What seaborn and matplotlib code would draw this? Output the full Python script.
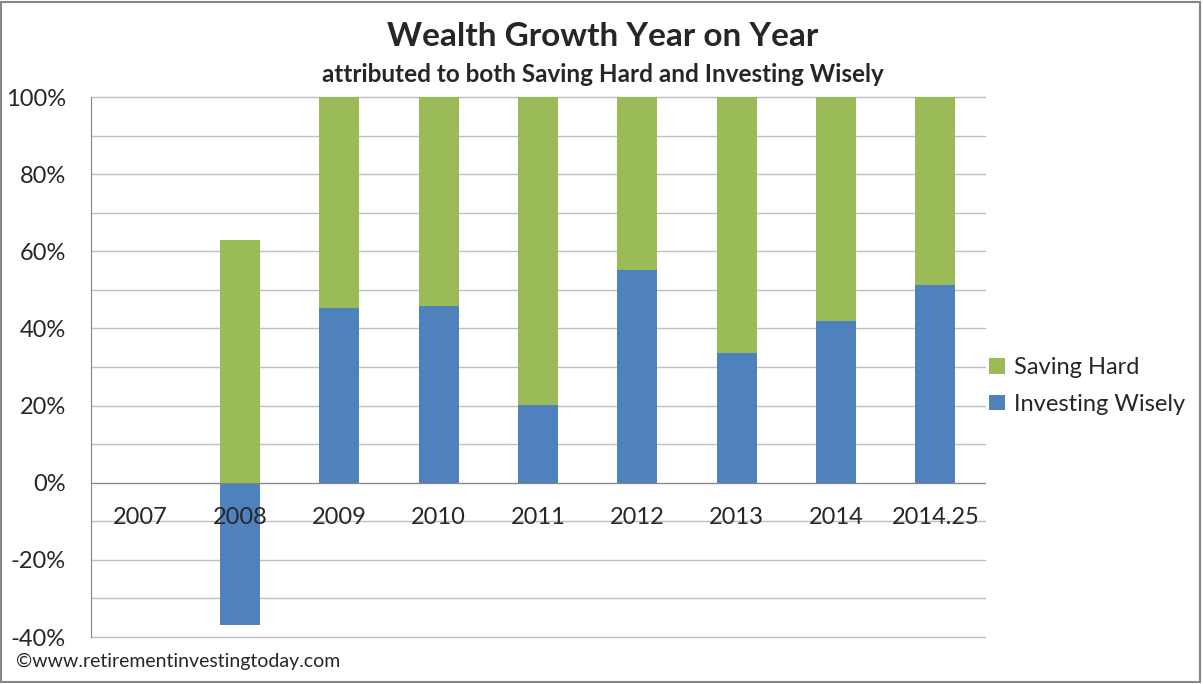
import matplotlib
matplotlib.use("Agg")
import matplotlib.pyplot as plt
from matplotlib.patches import Rectangle
from matplotlib.ticker import MultipleLocator, FixedLocator, PercentFormatter
import pandas as pd
import seaborn as sns

years = ["2007", "2008", "2009", "2010", "2011", "2012", "2013", "2014", "2014.25"]
investing_wisely = [0, -37.0, 45.3, 45.9, 20.2, 55.2, 33.7, 42.0, 51.3]
saving_hard = [0, 63.0, 54.7, 54.1, 79.8, 44.8, 66.3, 58.0, 48.7]

GREEN = "#9BBB59"
BLUE = "#4F81BD"
GREY = "#868686"

sns.set_style("white")
plt.rcParams["font.family"] = ["Lato", "DejaVu Sans"]
plt.rcParams["axes.unicode_minus"] = False

df = pd.DataFrame({"year": years, "investing": investing_wisely, "saving": saving_hard})
# saving stacks on a positive investing bar, starts at zero when investing is negative
df["saving_top"] = df["investing"].clip(lower=0) + df["saving"]

fig = plt.figure(figsize=(12.03, 6.84), dpi=100)
ax = fig.add_axes([91 / 1203, 47 / 684, 894 / 1203, 540 / 684])

sns.barplot(data=df, x="year", y="saving_top", color=GREEN, saturation=1, width=0.4,
            linewidth=0, ax=ax, label="Saving Hard", zorder=3)
sns.barplot(data=df, x="year", y="investing", color=BLUE, saturation=1, width=0.4,
            linewidth=0, ax=ax, label="Investing Wisely", zorder=3)
if ax.get_legend() is not None:
    ax.get_legend().remove()

ax.set_xlim(-0.5, len(years) - 0.5)
ax.set_ylim(-40, 100)
ax.set_xlabel("")
ax.set_ylabel("")

ax.yaxis.set_major_locator(MultipleLocator(20))
ax.yaxis.set_minor_locator(MultipleLocator(10))
ax.yaxis.set_major_formatter(PercentFormatter(decimals=0))
ax.grid(axis="y", which="both", color="#BFBFBF", linewidth=1)
ax.set_axisbelow(True)
for line in ax.get_ygridlines() + ax.yaxis.get_minorticklines():
    line.set_clip_on(False)
for tick in ax.yaxis.get_major_ticks() + ax.yaxis.get_minor_ticks():
    tick.gridline.set_clip_on(False)

ax.spines["top"].set_visible(False)
ax.spines["right"].set_visible(False)
ax.spines["left"].set_color(GREY)
ax.spines["bottom"].set_color(GREY)
ax.spines["bottom"].set_position(("data", 0))
ax.spines["bottom"].set_zorder(4)

# category labels sit on top of the bars, like Excel draws them
ax.xaxis.set_minor_locator(FixedLocator([i - 0.5 for i in range(len(years) + 1)]))
ax.tick_params(axis="x", which="major", length=0, labelbottom=False)
ax.tick_params(axis="x", which="minor", length=8, color=GREY, direction="out")
for i, year in enumerate(years):
    ax.annotate(year, (i, 0), xytext=(0, -25), textcoords="offset points",
                ha="center", va="center", fontsize=17, zorder=5)

ax.tick_params(axis="y", which="major", length=9, color=GREY, direction="out",
               labelsize=17, pad=9)
ax.tick_params(axis="y", which="minor", length=0)

handles, labels = ax.get_legend_handles_labels()
fig.legend(handles, labels, loc="center left", bbox_to_anchor=(968 / 1203, 1 - 386 / 684),
           frameon=False, fontsize=17, handlelength=0.65, handleheight=0.65,
           handletextpad=0.4, labelspacing=0.65)

fig.text(603 / 1203, 1 - 36 / 684, "Wealth Growth Year on Year", ha="center", va="center",
         fontsize=24, fontweight="bold")
fig.text(603 / 1203, 1 - 74 / 684, "attributed to both Saving Hard and Investing Wisely",
         ha="center", va="center", fontsize=17.5, fontweight="bold")
fig.text(16 / 1203, 1 - 661 / 684, "©www.retirementinvestingtoday.com", ha="left",
         va="center", fontsize=14)

fig.add_artist(Rectangle((1 / 1203, 2 / 684), 1199 / 1203, 680 / 684,
                         transform=fig.transFigure, fill=False, edgecolor=GREY, linewidth=1.5))

fig.savefig("out.png", dpi=100)
